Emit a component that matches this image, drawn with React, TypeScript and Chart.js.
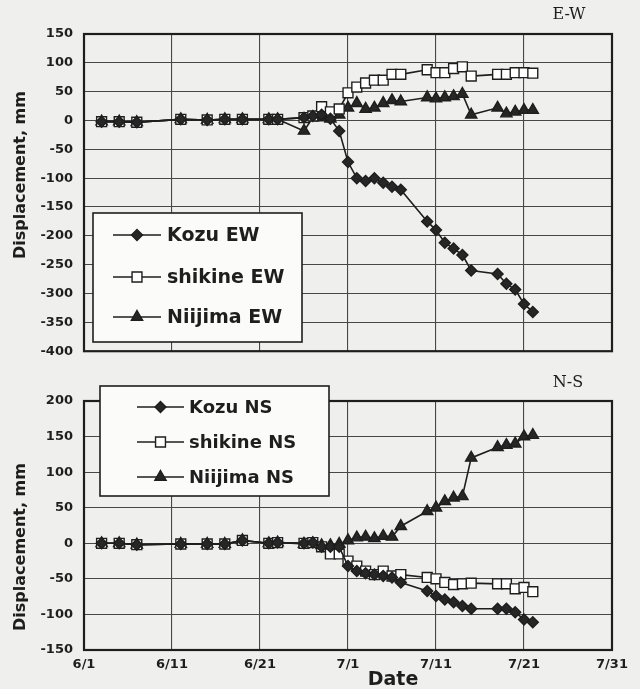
import React, { useEffect, useRef } from 'react';
import { Chart, registerables } from 'chart.js';

Chart.register(...registerables);

// ---------------- data ----------------
const DATES = [
  '6/3', '6/5', '6/7', '6/12', '6/15', '6/17', '6/19', '6/22', '6/23', '6/26', '6/27',
  '6/28', '6/29', '6/30',
  '7/1', '7/2', '7/3', '7/4', '7/5', '7/6', '7/7',
  '7/10', '7/11', '7/12', '7/13', '7/14', '7/15',
  '7/18', '7/19', '7/20', '7/21', '7/22',
];

const KOZU_EW = [-2, -2, -3, 2, 1, 2, 2, 2, 2, 5, 8, 10, 3, -18, -72, -100, -105, -100, -108, -115, -120, -175, -190, -212, -222, -233, -260, -266, -283, -293, -318, -332];
const SHIKINE_EW = [-2, -2, -3, 2, 1, 2, 2, 2, 2, 5, 8, 24, 15, 20, 48, 58, 65, 70, 70, 80, 80, 88, 83, 83, 90, 93, 77, 80, 80, 83, 83, 82];
const NIIJIMA_EW = [-2, -2, -3, 2, 1, 2, 2, 2, 2, -18, 5, 5, 3, 10, 22, 30, 20, 22, 30, 35, 33, 40, 38, 40, 42, 46, 10, 22, 12, 15, 18, 18];

const KOZU_NS = [0, 0, -2, -1, -1, -1, 4, 0, 1, 0, 1, -5, -5, -5, -32, -39, -42, -44, -46, -48, -55, -67, -74, -79, -83, -88, -92, -92, -92, -97, -107, -111];
const SHIKINE_NS = [0, 0, -2, -1, -1, -1, 4, 0, 1, 0, 1, -5, -15, -15, -25, -32, -39, -44, -39, -46, -44, -48, -50, -55, -58, -57, -56, -57, -57, -64, -62, -68];
const NIIJIMA_NS = [0, 0, -2, -1, -1, -1, 4, 0, 1, -1, 0, -3, -3, -1, 4, 8, 9, 7, 10, 9, 24, 45, 50, 59, 64, 66, 120, 135, 138, 140, 150, 152];

const X_TICK_LABELS = ['6/1', '6/11', '6/21', '7/1', '7/11', '7/21', '7/31'];
const EW_LABELS = ['Kozu EW', 'shikine EW', 'Niijima EW'];
const NS_LABELS = ['Kozu NS', 'shikine NS', 'Niijima NS'];

// ---------------- helpers ----------------
const FONT = '"DejaVu Sans", "Liberation Sans", sans-serif';
const INK = '#1e1e1e';
const GRID = '#474747';
const BG = '#efefed';

function dayOf(s: string) {
  const [m, d] = s.split('/').map(Number);
  return m === 6 ? d - 1 : 30 + d - 1;
}

type Style = 'rectRot' | 'rect' | 'triangle';
const STYLES: Style[] = ['rectRot', 'rect', 'triangle'];
const RADII: Record<Style, number> = { rectRot: 5.5, rect: 7, triangle: 6.5 };

function makeSeries(label: string, values: number[], style: Style) {
  return {
    label,
    data: DATES.map((d, i) => ({ x: dayOf(d), y: values[i] })),
    borderColor: INK,
    borderWidth: 1.6,
    pointStyle: style,
    pointRadius: RADII[style],
    pointBackgroundColor: style === 'rect' ? '#ffffff' : '#262626',
    pointBorderColor: INK,
    pointBorderWidth: 1.4,
    tension: 0,
    fill: false,
  };
}

function drawMarker(ctx: CanvasRenderingContext2D, style: Style, x: number, y: number) {
  const r = RADII[style];
  ctx.beginPath();
  if (style === 'rectRot') {
    ctx.moveTo(x, y - r); ctx.lineTo(x + r, y); ctx.lineTo(x, y + r); ctx.lineTo(x - r, y); ctx.closePath();
    ctx.fillStyle = '#262626';
  } else if (style === 'rect') {
    const s = r * Math.SQRT1_2;
    ctx.rect(x - s, y - s, 2 * s, 2 * s);
    ctx.fillStyle = '#ffffff';
  } else {
    const k = r * Math.sin(Math.PI / 3);
    ctx.moveTo(x, y - r); ctx.lineTo(x + k, y + r / 2); ctx.lineTo(x - k, y + r / 2); ctx.closePath();
    ctx.fillStyle = '#262626';
  }
  ctx.fill();
  ctx.lineWidth = 1.4;
  ctx.strokeStyle = INK;
  ctx.stroke();
}

const decor = {
  id: 'decor',
  afterDraw(chart: any, _args: any, o: any) {
    const { ctx, chartArea: a } = chart;
    ctx.save();
    // plot frame
    ctx.strokeStyle = INK;
    ctx.lineWidth = 2.2;
    ctx.strokeRect(a.left, a.top, a.right - a.left, a.bottom - a.top);
    // corner label
    ctx.fillStyle = INK;
    ctx.font = '16px "DejaVu Serif", "Liberation Serif", serif';
    ctx.textAlign = 'center';
    ctx.textBaseline = 'middle';
    ctx.fillText(o.corner.text, o.corner.x, o.corner.y);
    // y title
    ctx.save();
    ctx.translate(o.yTitle.x, o.yTitle.y);
    ctx.rotate(-Math.PI / 2);
    ctx.font = 'bold 16px ' + FONT;
    ctx.fillText('Displacement, mm', 0, 0);
    ctx.restore();
    // x title
    if (o.xTitle) {
      ctx.font = 'bold 19px ' + FONT;
      ctx.fillText('Date', o.xTitle.x, o.xTitle.y);
    }
    // legend box
    const L = o.legend;
    ctx.fillStyle = '#fbfbfa';
    ctx.fillRect(L.x, L.y, L.w, L.h);
    ctx.lineWidth = 1.6;
    ctx.strokeStyle = INK;
    ctx.strokeRect(L.x, L.y, L.w, L.h);
    chart.data.datasets.forEach((ds: any, i: number) => {
      const y = L.rows[i];
      ctx.beginPath();
      ctx.moveTo(L.line[0], y);
      ctx.lineTo(L.line[1], y);
      ctx.lineWidth = 1.5;
      ctx.strokeStyle = INK;
      ctx.stroke();
      drawMarker(ctx, ds.pointStyle, (L.line[0] + L.line[1]) / 2, y);
      ctx.fillStyle = INK;
      ctx.font = 'bold ' + L.font + 'px ' + FONT;
      ctx.textAlign = 'left';
      ctx.textBaseline = 'middle';
      ctx.fillText(ds.label, L.textX, y + 1);
    });
    ctx.restore();
  },
};

function buildConfig(
  labels: string[],
  values: number[][],
  yMin: number,
  yMax: number,
  showX: boolean,
  padTop: number,
  xHeight: number,
  deco: any,
): any {
  return {
    type: 'line',
    data: {
      datasets: values.map((v, i) => makeSeries(labels[i], v, STYLES[i])),
    },
    options: {
      responsive: false,
      animation: false,
      events: [],
      layout: { padding: { top: padTop, right: 28, left: 0, bottom: 0 } },
      plugins: {
        legend: { display: false },
        tooltip: { enabled: false },
        decor: deco,
      },
      scales: {
        x: {
          type: 'linear',
          min: 0,
          max: 60,
          border: { display: false },
          grid: { color: GRID, lineWidth: 1.1, drawTicks: false },
          ticks: {
            display: showX,
            stepSize: 10,
            autoSkip: false,
            maxRotation: 0,
            padding: 7,
            color: INK,
            font: { family: FONT, size: 13, weight: 'bold' },
            callback: (v: number) => X_TICK_LABELS[Math.round(v / 10)] ?? '',
          },
          afterFit: (s: any) => { s.height = xHeight; },
        },
        y: {
          min: yMin,
          max: yMax,
          border: { display: false },
          grid: { color: GRID, lineWidth: 1.1, drawTicks: false },
          ticks: {
            stepSize: 50,
            padding: 11,
            color: INK,
            font: { family: FONT, size: 13, weight: 'bold' },
          },
          afterFit: (s: any) => { s.width = 84; },
        },
      },
    },
    plugins: [decor],
  };
}

export default function App() {
  const topRef = useRef<HTMLCanvasElement>(null);
  const botRef = useRef<HTMLCanvasElement>(null);

  useEffect(() => {
    const top = new Chart(
      topRef.current as HTMLCanvasElement,
      buildConfig(EW_LABELS, [KOZU_EW, SHIKINE_EW, NIIJIMA_EW], -400, 150, false, 34, 9, {
        corner: { text: 'E-W', x: 569, y: 15 },
        yTitle: { x: 21, y: 175 },
        xTitle: null,
        legend: { x: 93, y: 213, w: 209, h: 129, rows: [235, 277, 317], line: [113, 161], textX: 167, font: 19 },
      }),
    );
    const bot = new Chart(
      botRef.current as HTMLCanvasElement,
      buildConfig(NS_LABELS, [KOZU_NS, SHIKINE_NS, NIIJIMA_NS], -150, 200, true, 31, 39, {
        corner: { text: 'N-S', x: 568, y: 13 },
        yTitle: { x: 21, y: 177 },
        xTitle: { x: 393, y: 310 },
        legend: { x: 100, y: 16, w: 229, h: 110, rows: [37, 72, 107], line: [137, 184], textX: 189, font: 18 },
      }),
    );
    return () => {
      top.destroy();
      bot.destroy();
    };
  }, []);

  return (
    <div style={{ position: 'absolute', left: 0, top: 0, width: 640, height: 689, background: BG }}>
      <canvas ref={topRef} width={640} height={370} style={{ position: 'absolute', left: 0, top: 0 }} />
      <canvas ref={botRef} width={640} height={319} style={{ position: 'absolute', left: 0, top: 370 }} />
    </div>
  );
}
